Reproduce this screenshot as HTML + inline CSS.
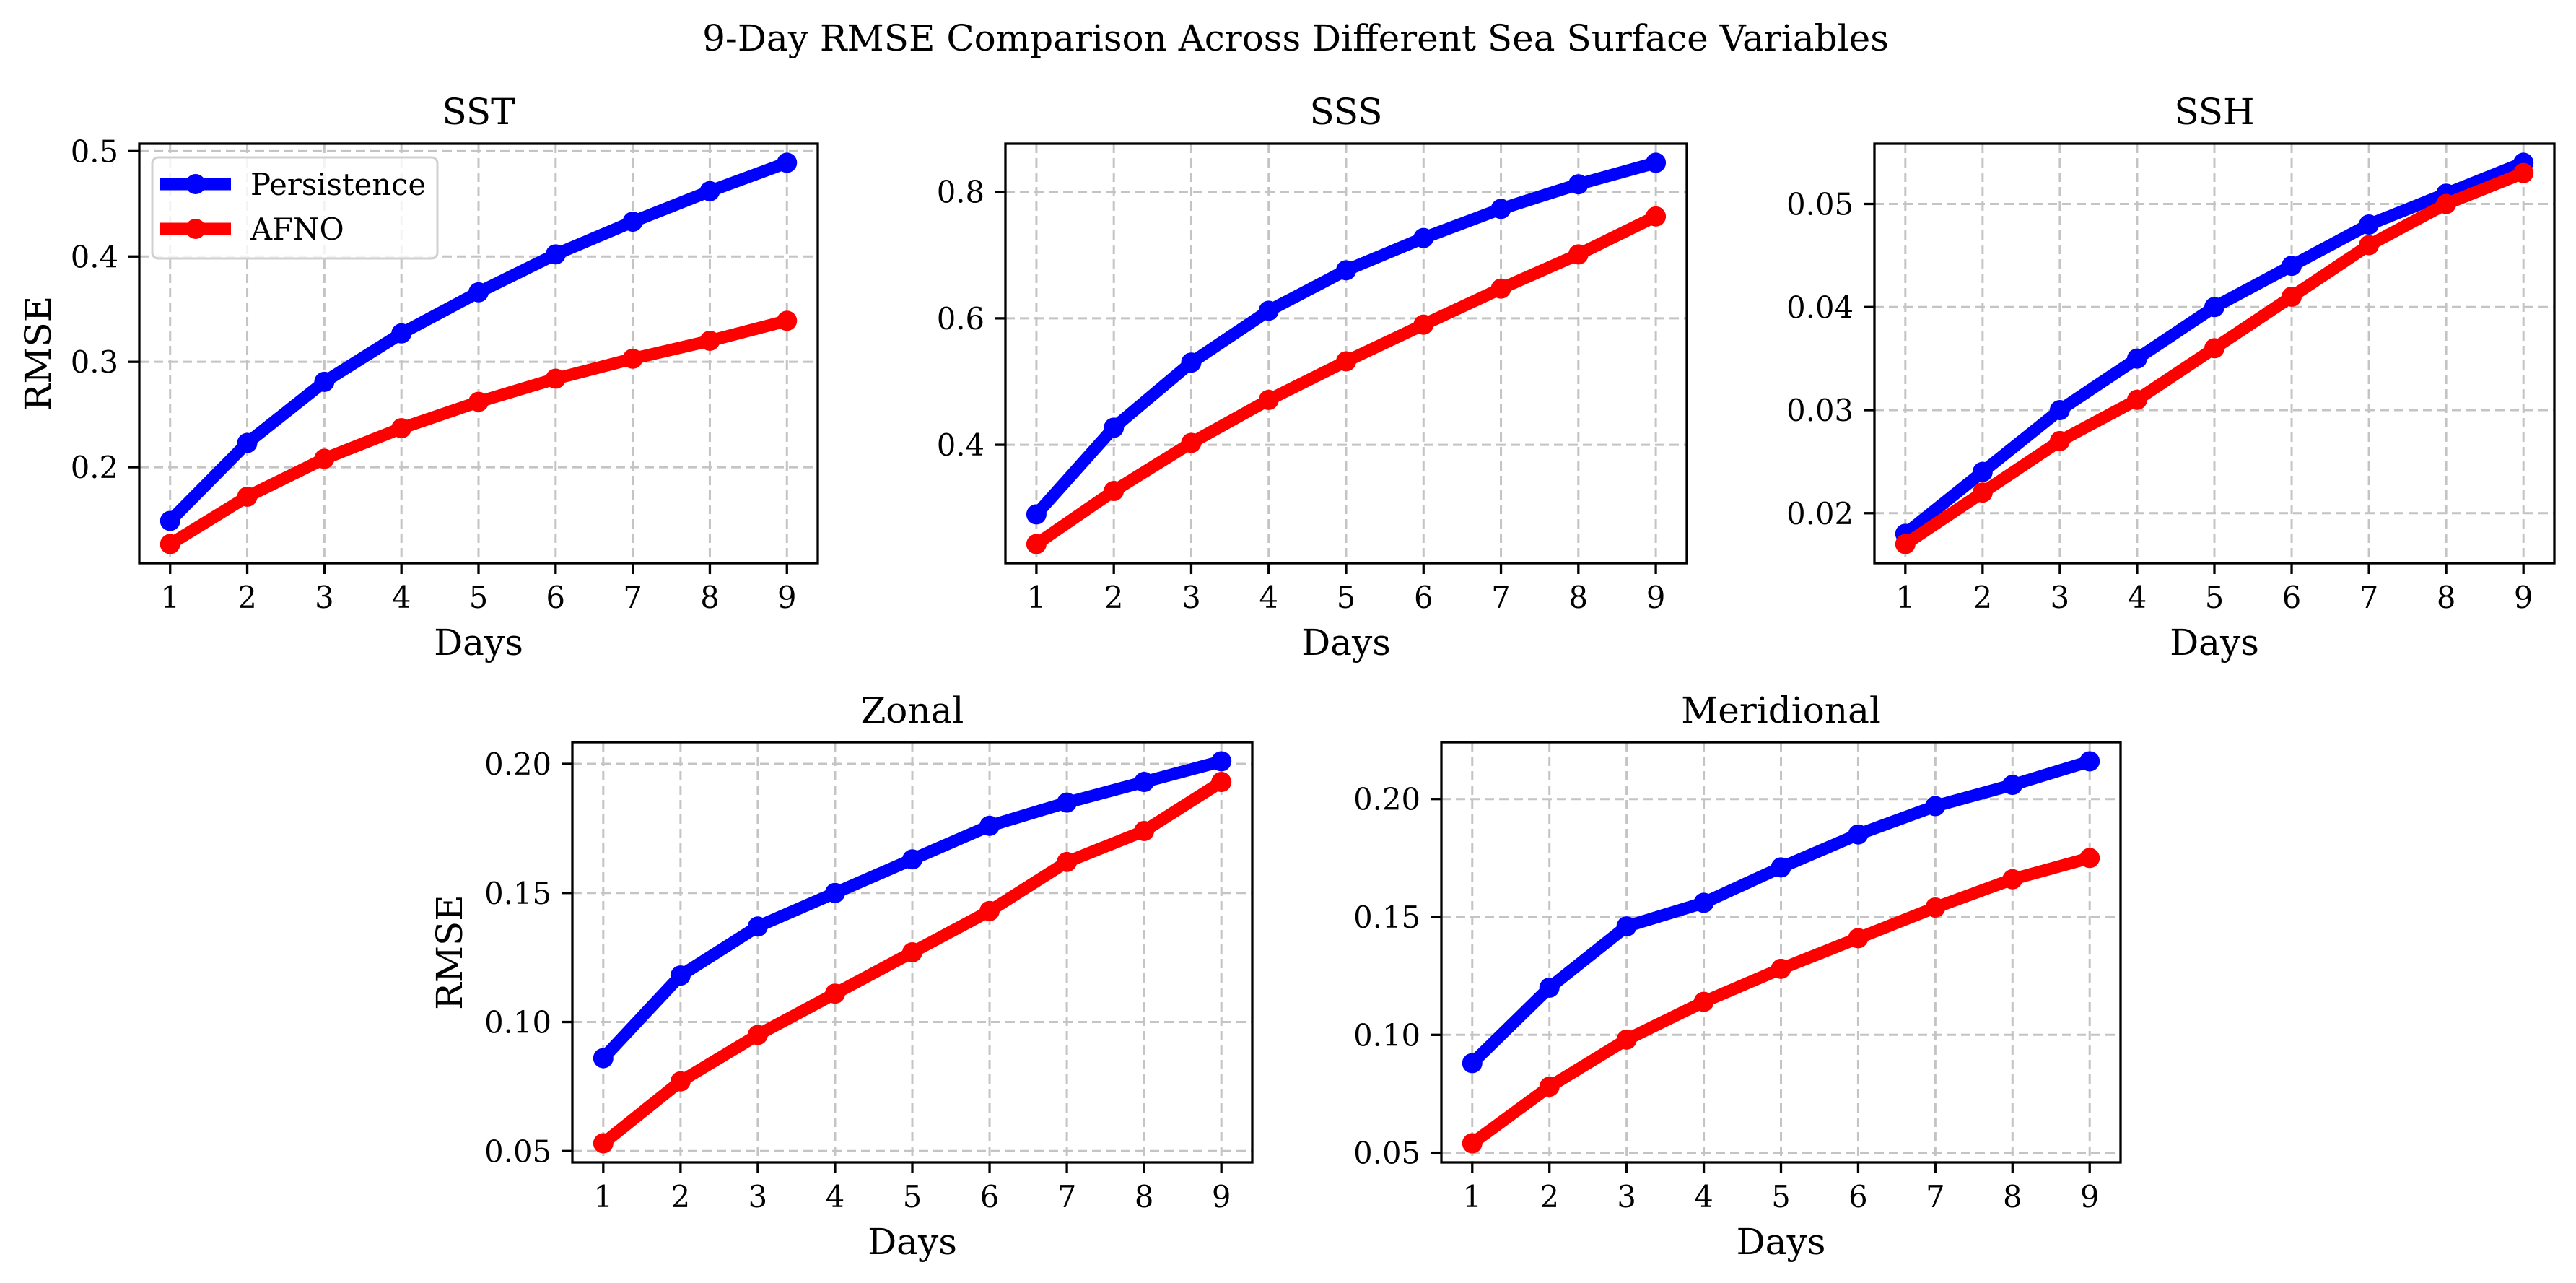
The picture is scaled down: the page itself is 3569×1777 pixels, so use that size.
<!DOCTYPE html>
<html><head><meta charset="utf-8"><style>
html,body{margin:0;padding:0;background:#fff;}
svg{display:block;}
text{font-family:"DejaVu Serif","Liberation Serif",serif;fill:#000;}
</style></head><body>
<svg id="fig" width="3569" height="1777" viewBox="0 0 3569 1777" xmlns="http://www.w3.org/2000/svg">
<rect width="3569" height="1777" fill="#fff"/>
<text x="1795" y="70" font-size="50" text-anchor="middle">9-Day RMSE Comparison Across Different Sea Surface Variables</text>
</svg>
<script>
const days = [1,2,3,4,5,6,7,8,9];
const sstPersistence = [0.149,0.223,0.281,0.327,0.366,0.402,0.433,0.462,0.489];
const sstAfno = [0.127,0.172,0.208,0.237,0.262,0.284,0.303,0.320,0.339];
const sssPersistence = [0.290,0.427,0.530,0.612,0.676,0.727,0.773,0.812,0.846];
const sssAfno = [0.243,0.327,0.403,0.471,0.532,0.590,0.647,0.701,0.761];
const sshPersistence = [0.018,0.024,0.030,0.035,0.040,0.044,0.048,0.051,0.054];
const sshAfno = [0.017,0.022,0.027,0.031,0.036,0.041,0.046,0.050,0.053];
const zonalPersistence = [0.086,0.118,0.137,0.150,0.163,0.176,0.185,0.193,0.201];
const zonalAfno = [0.053,0.077,0.095,0.111,0.127,0.143,0.162,0.174,0.193];
const meridPersistence = [0.088,0.120,0.146,0.156,0.171,0.185,0.197,0.206,0.216];
const meridAfno = [0.054,0.078,0.098,0.114,0.128,0.141,0.154,0.166,0.175];
const sstTicks = [0.2,0.3,0.4,0.5];
const sssTicks = [0.4,0.6,0.8];
const sshTicks = [0.02,0.03,0.04,0.05];
const uvTicks = [0.05,0.10,0.15,0.20];
const seriesNames = ["Persistence","AFNO"];

const NS = "http://www.w3.org/2000/svg";
const svg = document.getElementById('fig');
function mk(tag, attrs, parent){
  const e = document.createElementNS(NS, tag);
  for (const k in attrs) e.setAttribute(k, attrs[k]);
  (parent||svg).appendChild(e);
  return e;
}
function panel(cfg){
  const g = mk('g', {});
  
  
  const L=cfg.left, R=cfg.right, T=cfg.top, B=cfg.bottom;
  const xmin=0.6, xmax=9.4;
  const sx = v => L + (v - xmin)/(xmax - xmin)*(R-L);
  const all = cfg.p.concat(cfg.a);
  const lo = Math.min(...all), hi = Math.max(...all), pad=(hi-lo)*0.05;
  const ymin = lo - pad, ymax = hi + pad;
  const sy = v => B - (v - ymin)/(ymax - ymin)*(B-T);
  days.forEach(d=>{
    const l = mk('line',{x1:sx(d),x2:sx(d),y1:T,y2:B,stroke:'#c4c4c4','stroke-width':3,'stroke-dasharray':'13,7'},g);
    
    
  });
  cfg.ticks.forEach(t=>{
    const l = mk('line',{x1:L,x2:R,y1:sy(t),y2:sy(t),stroke:'#c4c4c4','stroke-width':3,'stroke-dasharray':'13,7'},g);
    
    
  });
  [[cfg.p,'#0000ff','persistence'],[cfg.a,'#ff0000','afno']].forEach(([vals,col,nm])=>{
    const pts = vals.map((v,i)=>sx(days[i])+','+sy(v)).join(' ');
    const pl = mk('polyline',{points:pts,fill:'none',stroke:col,'stroke-width':17,'stroke-linejoin':'round','stroke-linecap':'square'},g);
    
    
    vals.forEach((v,i)=>{
      const c = mk('circle',{cx:sx(days[i]),cy:sy(v),r:14,fill:col},g);
      
      
    });
  });
  const fr = mk('rect',{x:L,y:T,width:R-L,height:B-T,fill:'none',stroke:'#000','stroke-width':3.3},g);
  
  
  days.forEach(d=>{
    mk('line',{x1:sx(d),x2:sx(d),y1:B,y2:B+15,stroke:'#000','stroke-width':3.3},g);
    const t = mk('text',{x:sx(d),y:B+62,'font-size':41.7,'text-anchor':'middle'},g);
    t.textContent = d;
    
    
  });
  cfg.ticks.forEach(v=>{
    mk('line',{x1:L-15,x2:L,y1:sy(v),y2:sy(v),stroke:'#000','stroke-width':3.3},g);
    const t = mk('text',{x:L-29,y:sy(v)+15,'font-size':41.7,'text-anchor':'end'},g);
    t.textContent = v.toFixed(cfg.dec);
    
    
  });
  const ti = mk('text',{x:(L+R)/2,y:T-27,'font-size':50,'text-anchor':'middle'},g);
  ti.textContent = cfg.title;
  
  
  const xl = mk('text',{x:(L+R)/2,y:B+127,'font-size':50,'text-anchor':'middle'},g);
  xl.textContent = 'Days';
  
  
  if (cfg.ylab){
    const cy=(T+B)/2;
    const yl = mk('text',{x:cfg.ylabX,y:cy,'font-size':50,'text-anchor':'middle',transform:'rotate(-90 '+cfg.ylabX+' '+cy+')'},g);
    yl.textContent = 'RMSE';
    
    
  }
  return g;
}
panel({name:'sst',title:'SST',left:193,right:1133,top:199,bottom:780,p:sstPersistence,a:sstAfno,ticks:sstTicks,dec:1,ylab:true,ylabX:70});
panel({name:'sss',title:'SSS',left:1393,right:2337,top:199,bottom:780,p:sssPersistence,a:sssAfno,ticks:sssTicks,dec:1});
panel({name:'ssh',title:'SSH',left:2597,right:3539,top:199,bottom:780,p:sshPersistence,a:sshAfno,ticks:sshTicks,dec:2});
panel({name:'zonal',title:'Zonal',left:793,right:1735,top:1028,bottom:1610,p:zonalPersistence,a:zonalAfno,ticks:uvTicks,dec:2,ylab:true,ylabX:640});
panel({name:'meridional',title:'Meridional',left:1997,right:2938,top:1028,bottom:1610,p:meridPersistence,a:meridAfno,ticks:uvTicks,dec:2});

const lg = mk('g',{});


mk('rect',{x:211,y:218,width:395,height:140,rx:8,fill:'#fff','fill-opacity':0.8,stroke:'#d0d0d0','stroke-width':3},lg);
[['#0000ff',255],['#ff0000',317]].forEach(([col,y],i)=>{
  const e = mk('g',{},lg);
  
  
  mk('line',{x1:221,x2:320,y1:y,y2:y,stroke:col,'stroke-width':17},e);
  mk('circle',{cx:271,cy:y,r:14,fill:col},e);
  const t = mk('text',{x:347,y:y+15,'font-size':41.7},e);
  t.textContent = seriesNames[i];
});
</script>
</body></html>
